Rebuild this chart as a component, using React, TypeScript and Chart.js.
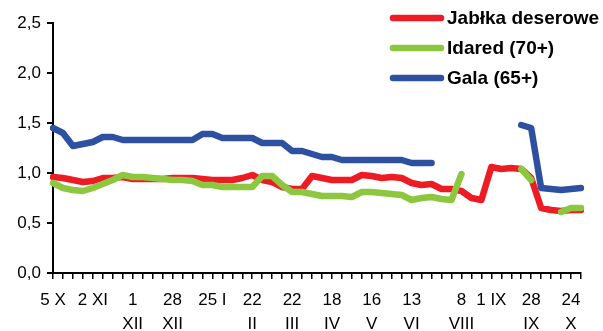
import React, { useEffect, useRef } from "react";
import { Chart, registerables } from "chart.js";

Chart.register(...registerables);

// Category (date) labels; "\n" splits a label into two lines
const categories: string[] = [
  "5 X", "", "", "", "2 XI", "", "", "", "1\nXII", "",
  "", "", "28\nXII", "", "", "", "25 I", "", "", "",
  "22\nII", "", "", "", "22\nIII", "", "", "", "18\nIV", "",
  "", "", "16\nV", "", "", "", "13\nVI", "", "", "",
  "", "8\nVIII", "", "", "1 IX", "", "", "", "28\nIX", "",
  "", "", "24\nX", "",
];

const jablkaDeserowe: (number | null)[] = [
  0.96, 0.95, 0.93, 0.91, 0.92, 0.95, 0.95, 0.96, 0.94, 0.94,
  0.94, 0.94, 0.95, 0.95, 0.95, 0.94, 0.93, 0.93, 0.93, 0.95,
  0.98, 0.93, 0.91, 0.86, 0.84, 0.84, 0.97, 0.95, 0.93, 0.93,
  0.93, 0.98, 0.97, 0.95, 0.96, 0.95, 0.90, 0.88, 0.89, 0.84,
  0.84, 0.82, 0.75, 0.73, 1.06, 1.04, 1.05, 1.04, 0.95, 0.65,
  0.63, 0.62, 0.63, 0.63,
];

const idared70: (number | null)[] = [
  0.90, 0.85, 0.83, 0.82, 0.85, 0.89, 0.93, 0.98, 0.96, 0.96,
  0.95, 0.94, 0.93, 0.93, 0.92, 0.88, 0.88, 0.86, 0.86, 0.86,
  0.86, 0.97, 0.97, 0.88, 0.81, 0.81, 0.79, 0.77, 0.77, 0.77,
  0.76, 0.81, 0.81, 0.80, 0.79, 0.78, 0.73, 0.75, 0.76, 0.74,
  0.73, 0.99, null, null, null, null, null, 1.04, 0.93, null,
  null, 0.61, 0.65, 0.65,
];

const gala65: (number | null)[] = [
  1.45, 1.40, 1.27, 1.29, 1.31, 1.36, 1.36, 1.33, 1.33, 1.33,
  1.33, 1.33, 1.33, 1.33, 1.33, 1.39, 1.39, 1.35, 1.35, 1.35,
  1.35, 1.30, 1.30, 1.30, 1.22, 1.22, 1.19, 1.16, 1.16, 1.13,
  1.13, 1.13, 1.13, 1.13, 1.13, 1.13, 1.10, 1.10, 1.10, null,
  null, null, null, null, null, null, null, 1.48, 1.45, 0.85,
  0.84, 0.83, 0.84, 0.85,
];

const seriesNames = ["Jabłka deserowe", "Idared (70+)", "Gala (65+)"];
const seriesColors = ["#ED1C24", "#8DC63F", "#2E50A0"];
// later series are drawn on top of earlier ones
const drawOrder = [3, 2, 1];

const yMin = 0;
const yMax = 2.5;
const yStep = 0.5;

const FONT = '"Liberation Sans", Arial, Helvetica, sans-serif';

const legendPlugin = {
  id: "customLegend",
  afterDraw(chart: any) {
    const ctx = chart.ctx as CanvasRenderingContext2D;
    ctx.save();
    chart.data.datasets.forEach((ds: any, k: number) => {
      const y = 18 + k * 30;
      ctx.strokeStyle = ds.borderColor;
      ctx.lineWidth = 6.5;
      ctx.lineCap = "round";
      ctx.beginPath();
      ctx.moveTo(393, y);
      ctx.lineTo(441, y);
      ctx.stroke();
      ctx.fillStyle = "#000";
      ctx.font = `bold 19px ${FONT}`;
      ctx.textBaseline = "middle";
      ctx.textAlign = "left";
      ctx.fillText(ds.label, 447, y + 1);
    });
    ctx.restore();
  },
};

export default function App() {
  const ref = useRef<HTMLCanvasElement | null>(null);

  useEffect(() => {
    if (!ref.current) return;
    const data = [jablkaDeserowe, idared70, gala65];
    const chart = new Chart(ref.current, {
      type: "line",
      data: {
        labels: categories.map((c) => (c.includes("\n") ? c.split("\n") : c)),
        datasets: data.map((d, k) => ({
          label: seriesNames[k],
          data: d,
          order: drawOrder[k],
          borderColor: seriesColors[k],
          backgroundColor: seriesColors[k],
          borderWidth: 6.5,
          borderCapStyle: "round",
          borderJoinStyle: "round",
          pointRadius: 0,
          tension: 0,
          fill: false,
          spanGaps: false,
        })),
      },
      options: {
        animation: false,
        responsive: true,
        maintainAspectRatio: false,
        layout: { padding: { top: 23, right: 22, left: 0, bottom: 0 } },
        plugins: {
          legend: { display: false },
          tooltip: { enabled: false },
        },
        scales: {
          x: {
            type: "category",
            offset: false,
            afterFit: (scale: any) => {
              scale.height = 58;
            },
            grid: {
              display: true,
              drawOnChartArea: false,
              drawTicks: true,
              tickLength: 6,
              color: "#000",
              lineWidth: 1.5,
            },
            border: { display: true, color: "#000", width: 2 },
            ticks: {
              autoSkip: false,
              maxRotation: 0,
              minRotation: 0,
              padding: 9,
              color: "#000",
              font: { family: FONT, size: 17, lineHeight: 1.42 },
            },
          },
          y: {
            min: yMin,
            max: yMax,
            afterFit: (scale: any) => {
              scale.width = 53;
            },
            grid: {
              display: true,
              drawOnChartArea: false,
              drawTicks: true,
              tickLength: 6,
              color: "#000",
              lineWidth: 2,
            },
            border: { display: true, color: "#000", width: 2 },
            ticks: {
              stepSize: yStep,
              padding: 6,
              color: "#000",
              font: { family: FONT, size: 17 },
              callback: (v: any) => Number(v).toFixed(1).replace(".", ","),
            },
          },
        },
      },
      plugins: [legendPlugin],
    } as any);
    return () => chart.destroy();
  }, []);

  return (
    <div style={{ position: "absolute", left: 0, top: 0, width: 603, height: 331 }}>
      <canvas ref={ref} />
    </div>
  );
}
